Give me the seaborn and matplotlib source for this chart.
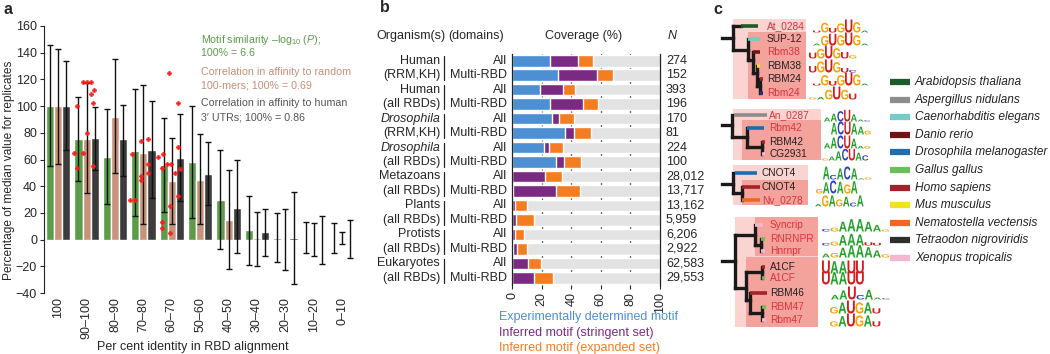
import numpy as np
import pandas as pd
import matplotlib
matplotlib.use('Agg')
import matplotlib.pyplot as plt
import seaborn as sns
from matplotlib.textpath import TextPath
from matplotlib.font_manager import FontProperties
from matplotlib.patches import PathPatch, Rectangle
from matplotlib.transforms import Affine2D, blended_transform_factory

W, H = 1050, 354

# ---------------- panel a data ----------------
bins = ['100', '90–100', '80–90', '70–80', '60–70', '50–60',
        '40–50', '30–40', '20–30', '10–20', '0–10']
measures = ['motif', 'random', 'utr']
motif_sim = [100, 75, 62, 66, 56, 58, 30, 7, 1, 0.5, 0.5]
random_corr = [100, 75, 92, 65, 44, 45, 15, 1, -1, -0.5, 0.5]
utr_corr = [100, 76, 75, 67, 61, 49, 24, 5.5, 1, 0.5, 0]
motif_hi = [146, 107, 98, 113, 91, 100, 67, 33, 20, 13, 12.5]
motif_lo = [55, 44, 27, 18, 21, 16, -7, -19, -17, -10, -10]
random_hi = [143, 117, 135, 116, 76, 79, 52, 21, 23, 12.5, 5.5]
random_lo = [57, 35, 50, 12, 12, 12, -22, -20, -23, -12, -3]
utr_hi = [134, 99, 101, 104, 94, 73, 60, 23, 36, 18, 14.5]
utr_lo = [67, 52, 48, 31, 29, 26, -10, -12, -33, -18, -14]

# individual replicate points (red)
dot_bin = (['90–100'] * 12 + ['70–80'] * 9 + ['60–70'] * 15)
dot_measure = ([0] * 4 + [1] * 4 + [2] * 4 +
               [0] * 3 + [1] * 3 + [2] * 3 +
               [0] * 5 + [1] * 5 + [2] * 5)
dot_value = [65, 100, 54, 65, 118, 118, 118, 80, 109, 112, 102, 55,
             64, 30, 30, 74, 48, 45, 75, 57, 50,
             62, 54, 64, 13, 9, 57, 57, 125, 25, 5, 102, 69, 53, 50, 33]
dot_jitter = [-0.5, -0.15, -0.15, 0.5, -0.5, 0, 0.5, 0, -0.45, -0.05, -0.2, -0.2,
              -0.4, -0.6, 0, -0.28, -0.28, -0.28, -0.4, -0.4, -0.4,
              -0.65, -0.24, -0.05, -0.24, -0.24, -0.57, -0.08, -0.36, -0.24, -0.24,
              -0.28, -0.28, 0.05, -0.64, -0.28]

# ---------------- panel b data ----------------
organisms = ['Human', 'Human', 'Drosophila', 'Drosophila',
             'Metazoans', 'Plants', 'Protists', 'Eukaryotes']
organism_domains = ['(RRM,KH)', '(all RBDs)', '(RRM,KH)', '(all RBDs)',
                    '(all RBDs)', '(all RBDs)', '(all RBDs)', '(all RBDs)']
domain_sets = ['All', 'Multi-RBD'] * 8
n_labels = ['274', '152', '393', '196', '170', '81', '224', '100',
            '28,012', '13,717', '13,162', '5,959', '6,206', '2,922', '62,583', '29,553']
# cumulative coverage (%)
cov_experimental = [25.5, 31, 19.2, 25.5, 27.3, 35.7, 21.4, 30,
                    0.3, 0.5, 0.2, 0.3, 0.2, 0.7, 0.2, 0.2]
cov_stringent = [44.7, 57.6, 34.5, 48.3, 31.6, 42, 25.3, 35,
                 22.3, 30, 1.8, 3, 1.8, 3.4, 11, 15]
cov_expanded = [54.9, 68, 42.7, 58, 42, 53.3, 34.5, 46.3,
                33.6, 45.8, 10.2, 15, 7.9, 10.4, 19.9, 27.8]
cov_full = [100] * 16

# ---------------- panel c data ----------------
species = ['Arabidopsis thaliana', 'Aspergillus nidulans', 'Caenorhabditis elegans',
           'Danio rerio', 'Drosophila melanogaster', 'Gallus gallus', 'Homo sapiens',
           'Mus musculus', 'Nematostella vectensis', 'Tetraodon nigroviridis',
           'Xenopus tropicalis']
species_colors = ['#1d5a2c', '#8c8c8c', '#72ccc7', '#6e1414', '#1f6cb0', '#6cbf58',
                  '#a3222b', '#f2e21c', '#f26522', '#2e2e2e', '#f5b6d2']
RED, BLK = '#d9343e', '#222222'
leaf_names = [['At_0284', 'SUP-12', 'Rbm38', 'RBM38', 'RBM24', 'Rbm24'],
              ['An_0287', 'Rbm42', 'RBM42', 'CG2931'],
              ['CNOT4', 'CNOT4', 'Nv_0278'],
              ['Syncrip', 'RNRNPR', 'Hnrnpr', 'A1CF', 'A1CF', 'RBM46', 'RBM47', 'Rbm47']]
leaf_name_colors = [[RED, BLK, RED, BLK, BLK, RED],
                    [RED, RED, BLK, BLK],
                    [BLK, BLK, RED],
                    [RED, RED, RED, BLK, RED, BLK, RED, RED]]
leaf_tip_colors = [['#1d5a2c', '#72ccc7', '#7a1515', '#f2e21c', '#a3222b', '#2b2f80'],
                   ['#8c8c8c', '#1f6cb0', '#a3222b', '#f5b6d2'],
                   ['#1f6cb0', '#a3222b', '#f26522'],
                   ['#f5b6d2', '#6cbf58', '#f5b6d2', '#a3222b', '#6cbf58', '#a3222b',
                    '#6cbf58', '#f5b6d2']]
logos = [
    [[('U', .15), ('G', .75), ('U', .35), ('G', .7), ('U', 1), ('G', .8), ('A', .15)],
     [('A', .15), ('G', .75), ('U', .9), ('G', .8), ('U', 1), ('G', .8), ('A', .15)],
     [('U', .45), ('G', .75), ('U', 1), ('G', .8), ('U', .5), ('G', .25)],
     [('U', .5), ('G', .85), ('U', 1), ('G', .8), ('U', .35), ('C', .2)],
     [('U', .15), ('G', .8), ('U', .35), ('G', .8), ('U', 1), ('G', .85), ('A', .15)],
     [('G', .15), ('A', .2), ('G', .75), ('U', 1), ('G', .75), ('U', .45)]],
    [[('A', .3), ('A', .6), ('C', .8), ('U', .9), ('A', .55), ('A', .15), ('C', .1)],
     [('A', .9), ('C', 1), ('U', 1), ('A', .85), ('A', .6), ('G', .3)],
     [('A', .4), ('A', .85), ('C', 1), ('U', 1), ('A', .75), ('A', .2), ('G', .2)],
     [('G', .15), ('A', .3), ('A', .7), ('C', .9), ('U', .9), ('A', .6), ('C', .4)]],
    [[('A', 1), ('C', .35), ('A', .85), ('C', 1), ('A', .85), ('A', .1), ('G', .15)],
     [('G', .35), ('A', .85), ('C', 1), ('A', .9), ('G', .7), ('A', .95)],
     [('A', .2), ('G', .85), ('A', .85), ('G', .55), ('A', .75), ('C', .3), ('A', .85)]],
    [[('C', .2), ('G', .3), ('A', .75), ('A', .95), ('A', .95), ('A', .75), ('A', .5), ('G', .15)],
     [('C', .2), ('G', .3), ('A', .8), ('A', .9), ('A', .85), ('U', .25), ('U', .2)],
     [('A', .3), ('G', .35), ('A', .75), ('A', .95), ('A', .95), ('A', .8), ('A', .55), ('G', .25)],
     [('U', 1), ('A', .95), ('A', .95), ('U', 1), ('U', 1)],
     [('U', 1), ('A', .95), ('A', .95), ('U', 1), ('U', 1)],
     [('A', .35), ('A', .7), ('U', 1), ('C', .35), ('A', .75), ('A', .15), ('C', .1)],
     [('G', .5), ('A', .85), ('U', 1), ('G', .85), ('A', .85), ('U', .4)],
     [('G', .4), ('A', .8), ('U', 1), ('G', .85), ('A', .85), ('U', .4)]],
]
base_colors = {'A': '#22a02a', 'C': '#2b3fbf', 'G': '#f5a300', 'U': '#d7191c'}

# ---------------- layout of panel c (pixel units) ----------------
leaf_y = [[26, 39, 52, 66, 79, 93], [115, 128, 142, 154], [173, 187, 200],
          [225, 239, 251, 267, 278, 293, 307, 320]]
label_x = [767, 769, 762, 770]
tip_x = [[(741, 758), (748, 760), (753, 760), (757, 760), (760, 763), (760, 763)],
         [(734, 767), (747, 764), (762, 765), (762, 765)],
         [(735, 757), (742, 760), (742, 760)],
         [(755, 763), (761, 765), (761, 765), (762, 765), (762, 765), (750, 767),
          (762, 766), (762, 766)]]
tree_segs = [
    [(722, 38, 733, 38), (733, 26, 733, 50), (733, 26, 741, 26), (733, 50, 748, 50),
     (748, 39, 748, 60), (748, 60, 753, 60), (753, 52, 753, 73), (753, 73, 757, 73),
     (757, 66, 757, 86), (757, 86, 760, 86), (760, 79, 760, 93)],
    [(722, 125, 732, 125), (732, 115, 732, 137), (732, 137, 747, 137), (747, 128, 747, 147),
     (747, 147, 762, 147), (762, 142, 762, 154)],
    [(722, 184, 733, 184), (733, 173, 733, 193), (733, 193, 742, 193), (742, 187, 742, 200)],
    [(722, 261, 735, 261), (735, 235, 735, 288), (735, 235, 755, 235), (755, 225, 755, 245),
     (755, 245, 761, 245), (761, 239, 761, 251), (735, 288, 746, 288), (746, 272, 746, 300),
     (746, 272, 762, 272), (762, 267, 762, 278), (746, 300, 750, 300), (750, 293, 750, 313),
     (750, 313, 762, 313), (762, 307, 762, 320)],
]
clade_boxes = [
    [(733, 19, 806, 99, 'o'), (748, 32, 806, 99, 'i')],
    [(733, 109, 821, 160, 'o'), (742, 120, 821, 160, 'i')],
    [(733, 165, 808, 205, 'o'), (742, 180, 808, 205, 'i')],
    [(735, 217, 818, 327, 'o'), (755, 217, 818, 256, 'i'), (746, 257, 818, 327, 'i')],
]
logo_x0 = [[813, 813, 809, 809, 813, 809], [824, 831, 824, 822],
           [823, 816, 815], [822, 822, 822, 822, 822, 831, 830, 830]]
logo_colw = [8, 6.7, 7, 8.5]


def box(x0, y0, x1, y1):
    return [x0 / W, 1 - y1 / H, (x1 - x0) / W, (y1 - y0) / H]


sns.set_theme(style='white')
plt.rcParams['font.family'] = ['Liberation Sans', 'DejaVu Sans']
plt.rcParams['font.size'] = 9
plt.rcParams['mathtext.fontset'] = 'custom'
plt.rcParams['mathtext.rm'] = 'Liberation Sans'
plt.rcParams['mathtext.it'] = 'Liberation Sans:italic'
plt.rcParams['axes.unicode_minus'] = True

fig = plt.figure(figsize=(W / 100, H / 100), dpi=100)

# =============== panel a ===============
axa = fig.add_axes(box(44, 26, 355, 293))
colors_a = ['#5c9b4a', '#c8937c', '#3c3c3c']
df_a = pd.DataFrame({
    'bin': bins * 3,
    'measure': np.repeat(measures, len(bins)),
    'value': motif_sim + random_corr + utr_corr,
})
sns.barplot(data=df_a, x='bin', y='value', hue='measure', order=bins, hue_order=measures,
            palette=colors_a, width=0.86, errorbar=None, saturation=1, legend=False, ax=axa)

his = [motif_hi, random_hi, utr_hi]
los = [motif_lo, random_lo, utr_lo]
vals = [motif_sim, random_corr, utr_corr]
bar_conts = list(axa.containers)[:3]
centers = []
for i, cont in enumerate(bar_conts):
    xs = np.array([p.get_x() + p.get_width() / 2 for p in cont])
    centers.append(xs)
    v = np.array(vals[i])
    axa.errorbar(xs, v, yerr=[v - np.array(los[i]), np.array(his[i]) - v], fmt='none',
                 ecolor='#111111', elinewidth=1.0, capsize=2.2, capthick=1.0, zorder=3)
bw = bar_conts[0][0].get_width()

dx = [centers[m][bins.index(b)] + j * bw for b, m, j in zip(dot_bin, dot_measure, dot_jitter)]
axa.plot(dx, dot_value, ls='none', marker='P', ms=3.2, color='#ff1a1a', mec='#ff1a1a',
         mew=0.3, zorder=4)

axa.set_xlim(-0.5, 10.45)
axa.set_ylim(-40, 160)
axa.set_yticks(range(-40, 161, 20))
axa.tick_params(axis='y', length=3, width=0.8, labelsize=9, pad=2, left=True)
axa.tick_params(axis='x', length=0, labelsize=9, rotation=90, pad=3)
axa.set_xlabel('Per cent identity in RBD alignment', fontsize=9)
axa.set_ylabel('Percentage of median value for replicates', fontsize=8.6)
axa.xaxis.set_label_coords((193 - 44) / 311, (293 - 347) / 267)
axa.yaxis.set_label_coords((9 - 44) / 311, (293 - 170) / 267)
axa.xaxis.label.set_va('center')
axa.yaxis.label.set_va('center')
for s in ['top', 'right', 'bottom']:
    axa.spines[s].set_visible(False)
axa.spines['left'].set_linewidth(0.8)
axa.spines['left'].set_color('#222222')
for lab in axa.get_xticklabels():
    lab.set_va('top')

leg_a = [('Motif similarity –log$_{10}$ ($\\mathit{P}$);', 40, colors_a[0]),
         ('100% = 6.6', 53, colors_a[0]),
         ('Correlation in affinity to random', 72, '#c48f78'),
         ('100-mers; 100% = 0.69', 85, '#c48f78'),
         ('Correlation in affinity to human', 103, '#555555'),
         ('3′ UTRs; 100% = 0.86', 117, '#555555')]
for txt, y, c in leg_a:
    fig.text(201 / W, 1 - y / H, txt, color=c, fontsize=7.7, va='center', ha='left')

# =============== panel b ===============
axb = fig.add_axes(box(512, 53.5, 660, 285))
row_ids = [f'r{i}' for i in range(16)]
for cov, col in [(cov_full, '#e3e3e3'), (cov_expanded, '#f47d22'),
                 (cov_stringent, '#7b2a82'), (cov_experimental, '#4c8fd2')]:
    sns.barplot(x=cov, y=row_ids, order=row_ids, orient='h', color=col, width=0.8,
                saturation=1, errorbar=None, ax=axb, zorder=2)
for xv in [20, 40, 60, 80]:
    axb.axvline(xv, color='#444444', lw=0.9, zorder=0)
axb.set_xlim(0, 100)
axb.set_ylim(15.5, -0.5)
axb.set_xticks(range(0, 101, 20))
axb.set_yticks([])
axb.set_xlabel('')
axb.set_ylabel('')
axb.tick_params(axis='x', length=3, width=0.8, labelsize=9, rotation=90, pad=2, bottom=True)
for s in ['top', 'bottom']:
    axb.spines[s].set_visible(False)
for s in ['left', 'right']:
    axb.spines[s].set_linewidth(0.9)
    axb.spines[s].set_color('#222222')

tb = blended_transform_factory(fig.transFigure, axb.transData)
for i, (org, dom) in enumerate(zip(organisms, organism_domains)):
    r = 2 * i
    st = 'italic' if org == 'Drosophila' else 'normal'
    axb.text(440 / W, r, org, transform=tb, ha='right', va='center', fontsize=9, style=st)
    axb.text(440 / W, r + 1, dom, transform=tb, ha='right', va='center', fontsize=9)
    axb.plot([444 / W, 444 / W], [r - 0.3, r + 1.35], transform=tb, color='#222222',
             lw=0.9, clip_on=False)
for i, d in enumerate(domain_sets):
    axb.text(507 / W, i, d, transform=tb, ha='right', va='center', fontsize=9)
for i, n in enumerate(n_labels):
    axb.text(666 / W, i, n, transform=tb, ha='left', va='center', fontsize=9)

fig.text(376 / W, 1 - 36 / H, 'Organism(s)', fontsize=9, va='center')
fig.text(448 / W, 1 - 36 / H, '(domains)', fontsize=9, va='center')
fig.text(584 / W, 1 - 36 / H, 'Coverage (%)', fontsize=9, va='center', ha='center')
fig.text(668 / W, 1 - 36 / H, 'N', fontsize=9, va='center', style='italic')
for txt, y, c in [('Experimentally determined motif', 317, '#4c8fd2'),
                  ('Inferred motif (stringent set)', 333, '#7b2a82'),
                  ('Inferred motif (expanded set)', 348, '#f47d22')]:
    fig.text(499 / W, 1 - y / H, txt, color=c, fontsize=9, va='center')

# =============== panel c ===============
axc = fig.add_axes(box(700, 0, 1050, 354))
axc.set_xlim(700, 1050)
axc.set_ylim(354, 0)
axc.axis('off')

fp_logo = FontProperties(family='Liberation Sans', weight='bold')


def draw_letter(ax, ch, x, y_base, w, h):
    tp = TextPath((0, 0), ch, size=10, prop=fp_logo)
    bb = tp.get_extents()
    t = (Affine2D().translate(-bb.x0, -bb.y0)
         .scale(w / bb.width, -h / bb.height).translate(x, y_base))
    ax.add_patch(PathPatch(tp, transform=t + ax.transData, color=base_colors[ch], lw=0))


for g in range(4):
    for x0, y0, x1, y1, kind in clade_boxes[g]:
        axc.add_patch(Rectangle((x0, y0), x1 - x0, y1 - y0, lw=0, zorder=0,
                                facecolor='#fbd3d1' if kind == 'o' else '#f4a29c'))
    for x0, y0, x1, y1 in tree_segs[g]:
        axc.plot([x0, x1], [y0, y1], color='#1a1a1a', lw=2.4, solid_capstyle='projecting',
                 zorder=2)
    for k, y in enumerate(leaf_y[g]):
        xa, xb = tip_x[g][k]
        axc.plot([xa, xb], [y, y], color=leaf_tip_colors[g][k], lw=2.6, zorder=3,
                 solid_capstyle='butt')
        axc.text(label_x[g], y, leaf_names[g][k], color=leaf_name_colors[g][k],
                 fontsize=7.3, va='center', ha='left', zorder=4)
        cw = logo_colw[g]
        for c, (ch, frac) in enumerate(logos[g][k]):
            draw_letter(axc, ch, logo_x0[g][k] + c * cw, y + 6.5, cw * 0.92, 13 * frac)

for i, (sp, col) in enumerate(zip(species, species_colors)):
    y = 82 + 17.6 * i
    axc.plot([890, 910], [y, y], color=col, lw=4.5, solid_capstyle='butt')
    axc.text(915, y, sp, fontsize=8.6, style='italic', va='center', ha='left', color='#222222')

# panel letters
for lab, x, y in [('a', 3, 10), ('b', 380, 8), ('c', 713, 10)]:
    fig.text(x / W, 1 - y / H, lab, fontsize=11.5, weight='bold', va='center')

fig.savefig('out.png', dpi=100)
